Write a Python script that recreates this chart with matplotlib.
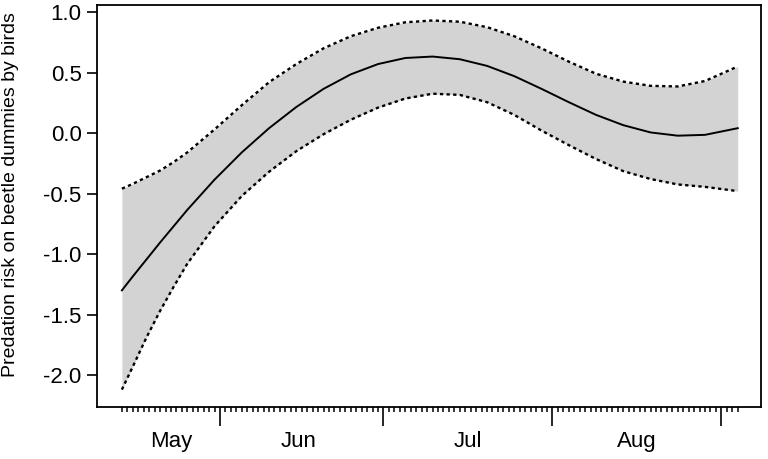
import numpy as np
import matplotlib
matplotlib.use("Agg")
import matplotlib.pyplot as plt
from matplotlib.transforms import blended_transform_factory

plt.rcParams['font.family'] = ['Liberation Sans', 'DejaVu Sans']

# day 0 = 1 May
day = [13, 15, 17.5, 20, 22.5, 25, 30, 35, 40, 45, 50, 55, 60, 65, 70, 75,
       80, 85, 90, 95, 100, 105, 110, 115, 120, 126]
fit = [-1.30, -1.185, -1.045, -0.905, -0.77, -0.635, -0.385, -0.160, 0.040,
       0.215, 0.365, 0.485, 0.570, 0.620, 0.632, 0.610, 0.555, 0.470, 0.365,
       0.255, 0.150, 0.065, 0.005, -0.022, -0.015, 0.040]
upper = [-0.46, -0.42, -0.365, -0.31, -0.24, -0.16, 0.03, 0.23, 0.42, 0.57,
         0.70, 0.80, 0.87, 0.915, 0.93, 0.92, 0.875, 0.80, 0.70, 0.59, 0.49,
         0.425, 0.39, 0.385, 0.43, 0.55]
lower = [-2.12, -1.93, -1.69, -1.47, -1.27, -1.08, -0.77, -0.52, -0.32, -0.15,
         -0.01, 0.11, 0.21, 0.285, 0.325, 0.315, 0.255, 0.15, 0.02, -0.10,
         -0.215, -0.315, -0.38, -0.425, -0.445, -0.48]

month_starts = [31, 61, 92, 123]
month_label_pos = [22, 45.5, 76.5, 107.5]
month_labels = ["May", "Jun", "Jul", "Aug"]
day_ticks = list(range(13, 127))
yticks = [1.0, 0.5, 0.0, -0.5, -1.0, -1.5, -2.0]

fig = plt.figure(figsize=(7.68, 4.59), dpi=100)
ax = fig.add_axes([97 / 768, 1 - 407 / 459, (761 - 97) / 768, (407 - 5) / 459])

ax.fill_between(day, lower, upper, color="#d3d3d3", linewidth=0)
ax.plot(day, fit, color="black", lw=1.4)
ax.plot(day, upper, color="black", lw=1.7, linestyle=(0, (1.4, 1.4)))
ax.plot(day, lower, color="black", lw=1.7, linestyle=(0, (1.4, 1.4)))

ax.set_xlim(8.43, 130.27)
ax.set_ylim(-2.264, 1.058)

for s in ax.spines.values():
    s.set_linewidth(1.3)

ax.set_yticks(yticks)
ax.set_yticklabels([f"{v:.1f}" for v in yticks])
ax.tick_params(axis="y", length=7, width=1.2, pad=4, labelsize=16)

ax.set_xticks(month_starts)
ax.set_xticklabels([])
ax.set_xticks(day_ticks, minor=True)
ax.tick_params(axis="x", which="major", length=14, width=1.2)
ax.tick_params(axis="x", which="minor", length=3.6, width=1.1)

trans = blended_transform_factory(ax.transData, ax.transAxes)
for pos, lab in zip(month_label_pos, month_labels):
    ax.text(pos, -0.085, lab, transform=trans, ha="center", va="center",
            fontsize=16)

fig.text(11 / 768, 1 - 195 / 459, "Predation risk on beetle dummies by birds",
         rotation=90, ha="center", va="center", fontsize=14)

fig.savefig("out.png", dpi=100)
